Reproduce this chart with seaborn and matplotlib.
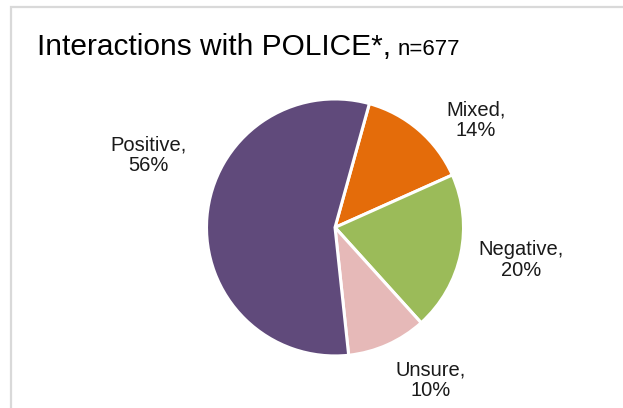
import matplotlib
matplotlib.use("Agg")
import matplotlib.pyplot as plt
import matplotlib.patches as patches
import seaborn as sns

# Datos del gráfico
categorias = ["Positive", "Mixed", "Negative", "Unsure"]
porcentajes = [56, 14, 20, 10]
colores = ["#604A7B", "#E46C0A", "#9BBB59", "#E6B9B8"]
titulo = "Interactions with POLICE*,"
subtitulo = "n=677"

sns.set_style("white")
plt.rcParams["font.family"] = ["Liberation Sans", "DejaVu Sans"]

fig = plt.figure(figsize=(6.23, 4.08), dpi=100)
ax = fig.add_axes([0, 0, 1, 1])

# Orden en sentido horario empezando por Mixed
orden = [1, 2, 3, 0]
valores = [porcentajes[i] for i in orden]
cols = [colores[i] for i in orden]
ax.pie(valores, colors=cols, startangle=74.5, counterclock=False,
       radius=1, center=(0, 0),
       wedgeprops=dict(edgecolor="white", linewidth=2.2))

ax.set_xlim(-2.607, 2.241)
ax.set_ylim(-1.405, 1.770)
ax.set_aspect("equal")
ax.axis("off")

# Etiquetas de datos
pos_etiquetas = {"Positive": (-1.455, 0.564), "Mixed": (1.097, 0.837),
                 "Negative": (1.447, -0.253), "Unsure": (0.747, -1.187)}
for cat, val in zip(categorias, porcentajes):
    x, y = pos_etiquetas[cat]
    ax.text(x, y, f"{cat},\n{val}%", ha="center", va="center",
            fontsize=14.5, color="#1a1a1a", linespacing=1.1)

# Título
t = fig.text(37 / 623, 1 - 55 / 408, titulo, fontsize=21.5,
             color="black", ha="left", va="baseline")
fig.canvas.draw()
bb = t.get_window_extent()
fig.text((bb.x1 + 7) / 623, 1 - 55 / 408, subtitulo, fontsize=16,
         color="black", ha="left", va="baseline")

# Borde del área del gráfico
borde = patches.Rectangle((11 / 623, -0.1), 1.2, 1 - 7 / 408 + 0.1,
                          transform=fig.transFigure, fill=False,
                          edgecolor="#D9D9D9", linewidth=1.6, clip_on=False)
fig.patches.append(borde)

fig.savefig("out.png", dpi=100)
